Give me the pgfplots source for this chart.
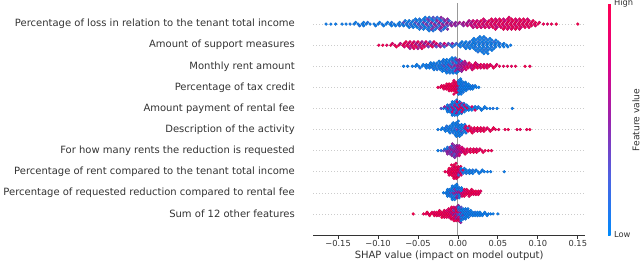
\documentclass[border=0pt]{standalone}
\usepackage{pgfplots}
\pgfplotsset{compat=1.18}
\usepackage{fontspec}
\setmainfont{DejaVu Sans}
\definecolor{axc}{HTML}{333333}
\definecolor{gridc}{HTML}{CCCCCC}
\definecolor{zeroc}{HTML}{999999}
\pgfplotsset{shapdots/.style={scatter, only marks, mark=*, mark size=1.4pt, point meta=explicit}}
\begin{document}
\begin{tikzpicture}
\useasboundingbox (0,0) rectangle (640pt,263pt);
\begin{axis}[
  at={(313.3pt,28pt)}, anchor=south west,
  scale only axis, width=271.7pt, height=232pt,
  xmin=-0.181, xmax=0.159, ymin=-1, ymax=10,
  axis x line*=bottom, axis y line*=left,
  x axis line style={-, draw=axc, line width=0.8pt},
  y axis line style={draw=none},
  tick align=outside, major tick length=3.5pt,
  xtick={-0.15,-0.1,-0.05,0,0.05,0.1,0.15},
  xticklabels={−0.15,−0.10,−0.05,0.00,0.05,0.10,0.15},
  xtick style={draw=axc, line width=0.8pt},
  ytick={0,1,2,3,4,5,6,7,8,9},
  yticklabels={Sum of 12 other features,Percentage of requested reduction compared to rental fee,Percentage of rent compared to the tenant total income,For how many rents the reduction is requested,Description of the activity,Amount payment of rental fee,Percentage of tax credit,Monthly rent amount,Amount of support measures,Percentage of loss in relation to the tenant total income},
  ytick style={draw=none},
  ymajorgrids,
  y grid style={gridc, line width=0.5pt, dash pattern=on 0.5pt off 2.5pt},
  xticklabel style={font=\fontsize{8.3}{10}\selectfont, text=axc, yshift=1.3pt},
  yticklabel style={font=\fontsize{10}{12}\selectfont, text=axc, anchor=east, xshift=-11.5pt},
  xlabel={SHAP value (impact on model output)},
  xlabel style={font=\fontsize{10}{12}\selectfont, text=axc, at={(axis description cs:0.5,0)}, anchor=north, yshift=-12.4pt},
  colormap={shap}{rgb255=(0,138,251) rgb255=(77,98,226) rgb255=(155,35,173) rgb255=(225,0,132) rgb255=(255,0,81)},
  point meta min=0, point meta max=1,
  colorbar right,
  colorbar style={
    at={(parent axis.north east)}, anchor=north west, xshift=14.5pt,
    scale only axis, width=2.5pt,
    axis line style={draw=none},
    ytick={0,1}, yticklabels={Low,High},
    ytick style={draw=none}, major tick length=0pt,
    yticklabel style={font=\fontsize{8.3}{10}\selectfont, text=axc},
  },
]
\addplot[zeroc, line width=0.9pt, forget plot] coordinates {(0,-1) (0,10)};
% row 9: Percentage of loss in relation to the tenant total income
\addplot[shapdots] table[row sep=\\, meta=c] {
x y c\\
-0.165 9 0.05\\ -0.159 9 0.05\\ -0.153 9 0.05\\ -0.145 9 0.05\\ -0.140 9 0.05\\ -0.135 9 0.08\\
-0.130 9 0.05\\ -0.128 9.08 0.05\\ -0.125 9 0.05\\ -0.123 8.92 0.1\\
-0.120 9 0.05\\ -0.118 9.08 0.05\\ -0.118 8.92 0.05\\ -0.115 9 0.05\\ -0.113 9.08 0.1\\
-0.110 9 0.05\\ -0.105 9 0.05\\ -0.103 8.92 0.05\\ -0.100 9 0.05\\ -0.098 9.08 0.05\\
-0.095 9 0.08\\ -0.093 8.92 0.05\\ -0.090 9 0.05\\ -0.088 9.08 0.05\\
-0.085 9 0.05\\ -0.083 9.08 0.1\\ -0.083 8.92 0.05\\ -0.080 9 0.05\\ -0.078 8.92 0.05\\
-0.075 9 0.05\\ -0.073 9.08 0.05\\ -0.073 8.92 0.1\\ -0.070 9 0.05\\ -0.068 9.08 0.3\\ -0.068 8.92 0.05\\
-0.065 9 0.1\\ -0.063 9.08 0.05\\ -0.063 8.92 0.05\\ -0.066 9.16 0.05\\
-0.060 9 0.2\\ -0.058 9.08 0.05\\ -0.058 8.92 0.1\\ -0.061 9.16 0.05\\ -0.061 8.84 0.05\\
-0.055 9 0.05\\ -0.053 9.08 0.3\\ -0.053 8.92 0.05\\ -0.056 9.16 0.1\\ -0.056 8.84 0.05\\ -0.053 9.24 0.05\\
-0.050 9 0.35\\ -0.048 9.08 0.05\\ -0.048 8.92 0.2\\ -0.051 9.16 0.05\\ -0.051 8.84 0.05\\ -0.048 9.24 0.1\\ -0.048 8.76 0.05\\
-0.045 9 0.05\\ -0.043 9.08 0.4\\ -0.043 8.92 0.05\\ -0.046 9.16 0.1\\ -0.046 8.84 0.3\\ -0.043 9.24 0.05\\ -0.043 8.76 0.05\\
-0.040 9 0.45\\ -0.038 9.08 0.1\\ -0.038 8.92 0.3\\ -0.041 9.16 0.05\\ -0.041 8.84 0.05\\ -0.038 9.24 0.4\\ -0.038 8.76 0.1\\ -0.041 9.32 0.05\\
-0.035 9 0.2\\ -0.033 9.08 0.5\\ -0.033 8.92 0.05\\ -0.036 9.16 0.35\\ -0.036 8.84 0.1\\ -0.033 9.24 0.05\\ -0.033 8.76 0.45\\ -0.036 9.32 0.1\\ -0.036 8.68 0.05\\
-0.030 9 0.5\\ -0.028 9.08 0.15\\ -0.028 8.92 0.45\\ -0.031 9.16 0.05\\ -0.031 8.84 0.4\\ -0.028 9.24 0.2\\ -0.028 8.76 0.05\\ -0.031 9.32 0.3\\ -0.031 8.68 0.1\\
-0.025 9 0.3\\ -0.023 9.08 0.55\\ -0.023 8.92 0.1\\ -0.026 9.16 0.5\\ -0.026 8.84 0.2\\ -0.023 9.24 0.05\\ -0.023 8.76 0.5\\ -0.026 9.32 0.15\\
-0.020 9 0.55\\ -0.018 9.08 0.2\\ -0.018 8.92 0.5\\ -0.021 9.16 0.1\\ -0.021 8.84 0.55\\ -0.018 9.24 0.4\\ -0.018 8.76 0.1\\ -0.021 9.32 0.5\\ -0.021 8.68 0.2\\
-0.015 9 0.45\\ -0.013 9.08 0.55\\ -0.013 8.92 0.3\\ -0.016 9.16 0.5\\ -0.016 8.84 0.1\\ -0.013 9.24 0.5\\ -0.013 8.76 0.45\\
-0.010 9 0.5\\ -0.008 9.08 0.4\\ -0.008 8.92 0.55\\ -0.011 9.16 0.2\\
-0.005 9 0.55\\ -0.003 9.08 0.5\\ -0.003 8.92 0.45\\ 0.000 9 0.5\\ 0.002 9.08 0.6\\
0.005 9 0.55\\ 0.007 9.08 0.6\\ 0.007 8.92 0.5\\ 0.010 9 0.65\\ 0.012 9.08 0.55\\ 0.012 8.92 0.7\\
0.015 9 0.7\\ 0.017 9.08 0.6\\ 0.017 8.92 0.75\\ 0.014 9.16 0.65\\
0.020 9 0.75\\ 0.022 9.08 0.85\\ 0.022 8.92 0.65\\ 0.019 9.16 0.8\\ 0.019 8.84 0.7\\
0.025 9 0.85\\ 0.027 9.08 0.7\\ 0.027 8.92 0.9\\ 0.024 9.16 0.75\\ 0.024 8.84 0.85\\
0.030 9 0.9\\ 0.032 9.08 0.8\\ 0.032 8.92 0.7\\ 0.029 9.16 0.95\\ 0.029 8.84 0.75\\ 0.032 9.24 0.85\\
0.035 9 0.8\\ 0.037 9.08 0.95\\ 0.037 8.92 0.85\\ 0.034 9.16 0.7\\ 0.034 8.84 0.9\\
0.040 9 0.95\\ 0.042 9.08 0.8\\ 0.042 8.92 0.9\\ 0.039 9.16 0.85\\ 0.039 8.84 0.75\\ 0.042 9.24 0.95\\
0.045 9 0.85\\ 0.047 9.08 0.95\\ 0.047 8.92 0.75\\ 0.044 9.16 0.9\\ 0.044 8.84 0.95\\ 0.047 9.24 0.8\\ 0.047 8.76 0.9\\
0.050 9 0.9\\ 0.052 9.08 0.8\\ 0.052 8.92 0.95\\ 0.049 9.16 0.85\\ 0.049 8.84 0.7\\ 0.052 9.24 0.95\\
0.055 9 0.95\\ 0.057 9.08 0.9\\ 0.057 8.92 0.8\\ 0.054 9.16 0.95\\ 0.054 8.84 0.85\\ 0.057 9.24 0.75\\ 0.057 8.76 0.95\\
0.060 9 0.8\\ 0.062 9.08 0.95\\ 0.062 8.92 0.9\\ 0.059 9.16 0.75\\ 0.059 8.84 0.95\\ 0.062 9.24 0.9\\ 0.062 8.76 0.85\\
0.065 9 0.95\\ 0.067 9.08 0.85\\ 0.067 8.92 0.95\\ 0.064 9.16 0.9\\ 0.064 8.84 0.8\\ 0.067 9.24 0.95\\ 0.067 8.76 0.9\\ 0.064 9.32 0.85\\
0.070 9 0.9\\ 0.072 9.08 0.95\\ 0.072 8.92 0.8\\ 0.069 9.16 0.95\\ 0.069 8.84 0.9\\ 0.072 9.24 0.85\\ 0.072 8.76 0.95\\
0.075 9 0.85\\ 0.077 9.08 0.9\\ 0.077 8.92 0.95\\ 0.074 9.16 0.8\\ 0.074 8.84 0.95\\ 0.077 9.24 0.9\\ 0.077 8.76 0.85\\
0.080 9 0.95\\ 0.082 9.08 0.85\\ 0.082 8.92 0.9\\ 0.079 9.16 0.95\\ 0.079 8.84 0.8\\ 0.082 9.24 0.95\\
0.085 9 0.9\\ 0.087 9.08 0.95\\ 0.087 8.92 0.85\\ 0.084 9.16 0.9\\ 0.084 8.84 0.95\\ 0.087 9.24 0.8\\
0.090 9 0.95\\ 0.092 9.08 0.9\\ 0.092 8.92 0.95\\ 0.089 9.16 0.85\\ 0.089 8.84 0.9\\
0.095 9 0.9\\ 0.097 9.08 0.95\\ 0.097 8.92 0.85\\ 0.094 9.16 0.95\\
0.100 9 0.95\\ 0.102 9.08 0.9\\ 0.107 9 0.95\\ 0.112 9 0.9\\ 0.117 9 0.95\\ 0.123 9 1\\ 0.150 9 1\\
};
% row 8: Amount of support measures
\addplot[shapdots] table[row sep=\\, meta=c] {
x y c\\
-0.099 8 0.95\\ -0.094 8 1\\ -0.089 8 0.9\\ -0.084 8 0.95\\ -0.082 8.08 0.85\\
-0.079 8 0.9\\ -0.077 7.92 1\\ -0.074 8 0.95\\ -0.072 8.08 0.7\\
-0.069 8 0.9\\ -0.067 8.08 0.95\\ -0.067 7.92 0.8\\
-0.064 8 0.95\\ -0.062 8.08 0.75\\ -0.062 7.92 0.9\\ -0.065 8.16 0.95\\
-0.059 8 0.7\\ -0.057 8.08 0.95\\ -0.057 7.92 0.85\\ -0.060 8.16 0.9\\ -0.060 7.84 0.6\\
-0.054 8 0.9\\ -0.052 8.08 0.6\\ -0.052 7.92 0.95\\ -0.055 8.16 0.8\\ -0.055 7.84 0.9\\
-0.049 8 0.5\\ -0.047 8.08 0.9\\ -0.047 7.92 0.7\\ -0.050 8.16 0.95\\ -0.050 7.84 0.6\\
-0.044 8 0.85\\ -0.042 8.08 0.5\\ -0.042 7.92 0.9\\ -0.045 8.16 0.6\\ -0.045 7.84 0.95\\
-0.039 8 0.6\\ -0.037 8.08 0.9\\ -0.037 7.92 0.4\\ -0.040 8.16 0.85\\
-0.034 8 0.9\\ -0.032 8.08 0.55\\ -0.032 7.92 0.95\\ -0.035 8.16 0.3\\
-0.029 8 0.5\\ -0.027 8.08 0.85\\ -0.027 7.92 0.3\\ -0.030 8.16 0.9\\
-0.024 8 0.7\\ -0.022 8.08 0.3\\ -0.022 7.92 0.6\\
-0.019 8 0.4\\ -0.017 8.08 0.8\\ -0.017 7.92 0.2\\
-0.014 8 0.6\\ -0.012 8.08 0.3\\
-0.009 8 0.15\\ -0.007 8.08 0.5\\ -0.007 7.92 0.1\\
-0.004 8 0.1\\ -0.002 8.08 0.2\\
0.001 8 0.05\\ 0.003 8.08 0.1\\ 0.003 7.92 0.05\\
0.006 8 0.05\\ 0.008 8.08 0.05\\ 0.008 7.92 0.1\\ 0.005 8.16 0.05\\
0.011 8 0.05\\ 0.013 8.08 0.1\\ 0.013 7.92 0.05\\ 0.010 8.16 0.05\\ 0.010 7.84 0.05\\
0.016 8 0.05\\ 0.018 8.08 0.05\\ 0.018 7.92 0.05\\ 0.015 8.16 0.1\\ 0.015 7.84 0.05\\ 0.018 8.24 0.05\\
0.021 8 0.05\\ 0.0225 8.08 0.05\\ 0.0225 7.92 0.1\\ 0.020 8.16 0.05\\ 0.020 7.84 0.05\\ 0.0225 8.24 0.05\\ 0.0225 7.76 0.05\\ 0.020 8.32 0.05\\
0.026 8 0.05\\ 0.0275 8.08 0.05\\ 0.0275 7.92 0.05\\ 0.025 8.16 0.1\\ 0.025 7.84 0.05\\ 0.0275 8.24 0.05\\ 0.0275 7.76 0.05\\ 0.025 8.32 0.05\\ 0.025 7.68 0.1\\ 0.0275 8.40 0.05\\
0.031 8 0.05\\ 0.0325 8.08 0.1\\ 0.0325 7.92 0.05\\ 0.030 8.16 0.05\\ 0.030 7.84 0.05\\ 0.0325 8.24 0.05\\ 0.0325 7.76 0.1\\ 0.030 8.32 0.05\\ 0.030 7.68 0.05\\ 0.0325 8.40 0.05\\ 0.0325 7.60 0.05\\
0.036 8 0.05\\ 0.0375 8.08 0.05\\ 0.0375 7.92 0.05\\ 0.035 8.16 0.05\\ 0.035 7.84 0.1\\ 0.0375 8.24 0.05\\ 0.0375 7.76 0.05\\ 0.035 8.32 0.1\\ 0.035 7.68 0.05\\ 0.0375 7.60 0.05\\
0.041 8 0.05\\ 0.0425 8.08 0.05\\ 0.0425 7.92 0.1\\ 0.040 8.16 0.05\\ 0.040 7.84 0.05\\ 0.0425 8.24 0.05\\ 0.0425 7.76 0.05\\ 0.040 8.32 0.05\\
0.046 8 0.05\\ 0.0475 8.08 0.05\\ 0.0475 7.92 0.05\\ 0.045 8.16 0.15\\ 0.045 7.84 0.05\\ 0.0475 8.24 0.05\\
0.051 8 0.05\\ 0.0525 8.08 0.1\\ 0.0525 7.92 0.05\\ 0.050 8.16 0.05\\
0.056 8 0.05\\ 0.0575 8.08 0.05\\ 0.0575 7.92 0.05\\
0.061 8 0.05\\ 0.0625 7.92 0.05\\ 0.066 8 0.05\\
};
% row 7: Monthly rent amount
\addplot[shapdots] table[row sep=\\, meta=c] {
x y c\\
-0.068 7 0.05\\ -0.063 7 0.05\\ -0.057 7 0.05\\
-0.053 7 0.05\\ -0.0515 7.08 0.05\\ -0.049 7 0.05\\ -0.0475 6.92 0.1\\ -0.045 7 0.05\\ -0.0435 7.08 0.05\\
-0.041 7 0.05\\ -0.0395 7.08 0.05\\ -0.0395 6.92 0.05\\ -0.037 7 0.1\\ -0.0355 7.08 0.05\\ -0.0355 6.92 0.05\\
-0.033 7 0.05\\ -0.0315 7.08 0.05\\ -0.0315 6.92 0.1\\ -0.034 7.16 0.05\\
-0.029 7 0.05\\ -0.0275 7.08 0.1\\ -0.0275 6.92 0.05\\ -0.030 7.16 0.05\\ -0.030 6.84 0.05\\
-0.025 7 0.1\\ -0.0235 7.08 0.05\\ -0.0235 6.92 0.05\\ -0.026 7.16 0.05\\ -0.026 6.84 0.1\\ -0.0235 7.24 0.05\\
-0.021 7 0.05\\ -0.0195 7.08 0.2\\ -0.0195 6.92 0.05\\ -0.022 7.16 0.05\\ -0.022 6.84 0.05\\ -0.0195 7.24 0.1\\ -0.0195 6.76 0.05\\
-0.017 7 0.3\\ -0.0155 7.08 0.05\\ -0.0155 6.92 0.05\\ -0.018 7.16 0.1\\ -0.018 6.84 0.05\\ -0.0155 7.24 0.05\\ -0.0155 6.76 0.05\\ -0.018 7.32 0.05\\
-0.013 7 0.05\\ -0.0115 7.08 0.35\\ -0.0115 6.92 0.05\\ -0.014 7.16 0.05\\ -0.014 6.84 0.2\\ -0.0115 7.24 0.05\\ -0.0115 6.76 0.05\\ -0.014 7.32 0.05\\ -0.014 6.68 0.05\\
-0.009 7 0.45\\ -0.0075 7.08 0.05\\ -0.0075 6.92 0.4\\ -0.010 7.16 0.05\\ -0.010 6.84 0.05\\ -0.0075 7.24 0.3\\ -0.0075 6.76 0.05\\ -0.010 7.32 0.05\\ -0.010 6.68 0.1\\ -0.0075 7.40 0.05\\
-0.005 7 0.5\\ -0.0035 7.08 0.45\\ -0.0035 6.92 0.05\\ -0.006 7.16 0.4\\ -0.006 6.84 0.1\\ -0.0035 7.24 0.05\\ -0.0035 6.76 0.5\\ -0.006 7.32 0.05\\ -0.006 6.68 0.05\\ -0.0035 7.40 0.1\\
-0.001 7 0.55\\ 0.0005 7.08 0.5\\ 0.0005 6.92 0.45\\ -0.002 7.16 0.05\\ -0.002 6.84 0.5\\ 0.0005 7.24 0.4\\ 0.0005 6.76 0.05\\ -0.002 7.32 0.45\\ -0.002 6.68 0.05\\
0.003 7 0.6\\ 0.0045 7.08 0.55\\ 0.0045 6.92 0.5\\ 0.002 7.16 0.45\\ 0.002 6.84 0.6\\ 0.0045 7.24 0.1\\ 0.0045 6.76 0.5\\ 0.002 7.32 0.55\\
0.007 7 0.7\\ 0.0085 7.08 0.6\\ 0.0085 6.92 0.8\\ 0.006 7.16 0.55\\ 0.006 6.84 0.65\\ 0.0085 7.24 0.7\\
0.011 7 0.85\\ 0.0125 7.08 0.7\\ 0.0125 6.92 0.9\\ 0.010 7.16 0.6\\ 0.010 6.84 0.8\\
0.015 7 0.9\\ 0.0165 7.08 0.8\\ 0.0165 6.92 0.65\\ 0.014 7.16 0.95\\
0.019 7 0.75\\ 0.0205 7.08 0.95\\ 0.0205 6.92 0.9\\ 0.018 6.84 0.85\\
0.023 7 0.95\\ 0.0245 7.08 0.7\\ 0.0245 6.92 0.95\\ 0.022 7.16 0.85\\
0.027 7 0.9\\ 0.0285 7.08 0.95\\ 0.0285 6.92 0.8\\ 0.031 7 0.95\\ 0.0325 7.08 0.85\\ 0.0325 6.92 0.95\\
0.035 7 0.8\\ 0.0365 7.08 0.95\\ 0.0365 6.92 0.9\\ 0.039 7 0.95\\ 0.0405 7.08 0.9\\
0.043 7 0.9\\ 0.0445 6.92 0.95\\ 0.047 7 0.95\\ 0.0485 7.08 0.85\\
0.052 7 0.95\\ 0.057 7 0.9\\ 0.062 7 0.95\\ 0.067 7 0.9\\ 0.072 7 0.95\\ 0.084 7 1\\ 0.090 7 0.95\\
};
% row 6: Percentage of tax credit
\addplot[shapdots] table[row sep=\\, meta=c] {
x y c\\
-0.025 6 0.95\\ -0.022 6 0.95\\ -0.0205 6.08 0.9\\
-0.019 6 1\\ -0.0175 6.08 0.95\\ -0.0175 5.92 0.9\\ -0.016 6 0.95\\ -0.0145 6.08 1\\ -0.0145 5.92 0.95\\
-0.013 6 0.9\\ -0.0115 6.08 0.95\\ -0.0115 5.92 1\\ -0.014 6.16 0.95\\
-0.010 6 0.95\\ -0.0085 6.08 0.9\\ -0.0085 5.92 0.95\\ -0.011 6.16 1\\ -0.011 5.84 0.95\\
-0.007 6 1\\ -0.0055 6.08 0.95\\ -0.0055 5.92 0.9\\ -0.008 6.16 0.95\\ -0.008 5.84 1\\ -0.0055 6.24 0.95\\
-0.004 6 0.95\\ -0.0025 6.08 1\\ -0.0025 5.92 0.95\\ -0.005 6.16 0.9\\ -0.005 5.84 0.95\\ -0.0025 6.24 1\\ -0.0025 5.76 0.95\\ -0.005 6.32 0.9\\ -0.005 5.68 0.95\\
-0.001 6 0.6\\ 0.0005 6.08 0.95\\ 0.0005 5.92 0.5\\ -0.002 6.16 0.95\\ -0.002 5.84 0.9\\ 0.0005 6.24 0.2\\ 0.0005 5.76 0.95\\
0.002 6 0.05\\ 0.0035 6.08 0.05\\ 0.0035 5.92 0.1\\ 0.001 6.16 0.05\\ 0.001 5.84 0.05\\ 0.0035 6.24 0.05\\ 0.0035 5.76 0.05\\ 0.001 6.32 0.05\\ 0.001 5.68 0.05\\ 0.0035 6.40 0.05\\
0.005 6 0.05\\ 0.0065 6.08 0.1\\ 0.0065 5.92 0.05\\ 0.004 6.16 0.05\\ 0.004 5.84 0.05\\ 0.0065 6.24 0.05\\ 0.0065 5.76 0.1\\ 0.004 6.32 0.05\\ 0.004 5.68 0.05\\
0.008 6 0.05\\ 0.0095 6.08 0.05\\ 0.0095 5.92 0.05\\ 0.007 6.16 0.1\\ 0.007 5.84 0.05\\ 0.0095 6.24 0.05\\
0.011 6 0.05\\ 0.0125 6.08 0.05\\ 0.0125 5.92 0.1\\ 0.010 6.16 0.05\\ 0.010 5.84 0.05\\
0.014 6 0.05\\ 0.0155 6.08 0.05\\ 0.0155 5.92 0.05\\ 0.013 6.16 0.05\\
0.017 6 0.05\\ 0.0185 6.08 0.1\\ 0.0185 5.92 0.05\\ 0.020 6 0.05\\ 0.0215 6.08 0.05\\ 0.023 6 0.05\\ 0.026 6 0.05\\
};
% row 5: Amount payment of rental fee
\addplot[shapdots] table[row sep=\\, meta=c] {
x y c\\
-0.021 5 0.3\\ -0.018 5 0.05\\ -0.0165 5.08 0.6\\ -0.015 5 0.05\\ -0.0135 5.08 0.3\\ -0.0135 4.92 0.05\\
-0.012 5 0.5\\ -0.0105 5.08 0.05\\ -0.0105 4.92 0.1\\ -0.013 5.16 0.05\\ -0.013 4.84 0.05\\
-0.009 5 0.05\\ -0.0075 5.08 0.6\\ -0.0075 4.92 0.05\\ -0.010 5.16 0.3\\ -0.010 4.84 0.05\\ -0.0075 5.24 0.05\\ -0.0075 4.76 0.1\\
-0.006 5 0.7\\ -0.0045 5.08 0.05\\ -0.0045 4.92 0.5\\ -0.007 5.16 0.05\\ -0.007 4.84 0.8\\ -0.0045 5.24 0.1\\ -0.0045 4.76 0.05\\ -0.007 5.32 0.05\\ -0.007 4.68 0.05\\
-0.003 5 0.05\\ -0.0015 5.08 0.9\\ -0.0015 4.92 0.05\\ -0.004 5.16 0.6\\ -0.004 4.84 0.05\\ -0.0015 5.24 0.05\\ -0.0015 4.76 0.7\\ -0.004 5.32 0.05\\ -0.004 4.68 0.1\\ -0.0015 5.40 0.05\\
0.000 5 0.8\\ 0.0015 5.08 0.05\\ 0.0015 4.92 0.95\\ -0.001 5.16 0.05\\ -0.001 4.84 0.5\\ 0.0015 5.24 0.05\\ 0.0015 4.76 0.05\\ -0.001 5.32 0.9\\ -0.001 4.68 0.05\\
0.003 5 0.95\\ 0.0045 5.08 0.7\\ 0.0045 4.92 0.05\\ 0.002 5.16 0.9\\ 0.002 4.84 0.05\\ 0.0045 5.24 0.6\\ 0.0045 4.76 0.05\\ 0.002 5.32 0.05\\
0.006 5 0.9\\ 0.0075 5.08 0.05\\ 0.0075 4.92 0.95\\ 0.005 5.16 0.1\\ 0.005 4.84 0.8\\ 0.0075 5.24 0.05\\
0.009 5 0.05\\ 0.0105 5.08 0.95\\ 0.0105 4.92 0.05\\ 0.008 5.16 0.7\\ 0.008 4.84 0.05\\
0.012 5 0.9\\ 0.0135 5.08 0.05\\ 0.0135 4.92 0.05\\ 0.011 5.16 0.1\\
0.016 5 0.05\\ 0.0175 5.08 0.85\\ 0.0175 4.92 0.05\\ 0.020 5 0.05\\ 0.0215 5.08 0.05\\ 0.0215 4.92 0.9\\
0.024 5 0.05\\ 0.0255 5.08 0.1\\ 0.028 5 0.05\\ 0.0295 4.92 0.05\\ 0.032 5 0.05\\ 0.0335 5.08 0.05\\
0.036 5 0.05\\ 0.040 5 0.05\\ 0.044 5 0.1\\ 0.049 5 0.05\\ 0.068 5 0.05\\
};
% row 4: Description of the activity
\addplot[shapdots] table[row sep=\\, meta=c] {
x y c\\
-0.025 4 0.05\\ -0.021 4 0.05\\ -0.0195 4.08 0.05\\ -0.017 4 0.05\\ -0.0155 4.08 0.1\\ -0.0155 3.92 0.05\\
-0.013 4 0.05\\ -0.0115 4.08 0.05\\ -0.0115 3.92 0.05\\ -0.014 4.16 0.1\\
-0.009 4 0.1\\ -0.0075 4.08 0.05\\ -0.0075 3.92 0.05\\ -0.010 4.16 0.05\\ -0.010 3.84 0.05\\ -0.0075 4.24 0.05\\
-0.005 4 0.05\\ -0.0035 4.08 0.2\\ -0.0035 3.92 0.05\\ -0.006 4.16 0.05\\ -0.006 3.84 0.1\\ -0.0035 4.24 0.05\\ -0.0035 3.76 0.05\\ -0.006 4.32 0.05\\
-0.001 4 0.4\\ 0.0005 4.08 0.05\\ 0.0005 3.92 0.05\\ -0.002 4.16 0.05\\ -0.002 3.84 0.05\\ 0.0005 4.24 0.1\\ 0.0005 3.76 0.05\\ -0.002 4.32 0.05\\ -0.002 3.68 0.05\\ 0.0005 4.40 0.05\\
0.003 4 0.05\\ 0.0045 4.08 0.05\\ 0.0045 3.92 0.3\\ 0.002 4.16 0.05\\ 0.002 3.84 0.05\\ 0.0045 4.24 0.05\\ 0.0045 3.76 0.05\\ 0.002 3.68 0.05\\
0.007 4 0.05\\ 0.0085 4.08 0.6\\ 0.0085 3.92 0.05\\ 0.006 4.16 0.05\\ 0.006 3.84 0.1\\ 0.0085 4.24 0.05\\
0.011 4 0.8\\ 0.0125 4.08 0.05\\ 0.0125 3.92 0.95\\ 0.010 4.16 0.9\\ 0.010 3.84 0.05\\
0.015 4 0.95\\ 0.0165 4.08 0.9\\ 0.0165 3.92 1\\ 0.014 4.16 0.95\\
0.019 4 0.9\\ 0.0205 4.08 0.95\\ 0.0205 3.92 0.85\\ 0.018 3.84 0.95\\
0.023 4 0.95\\ 0.0245 4.08 1\\ 0.0245 3.92 0.9\\ 0.027 4 0.9\\ 0.0285 4.08 0.95\\ 0.0285 3.92 0.95\\
0.031 4 1\\ 0.0325 4.08 0.9\\ 0.0325 3.92 0.95\\ 0.035 4 0.95\\ 0.0365 4.08 0.9\\
0.039 4 0.9\\ 0.0405 3.92 0.95\\ 0.043 4 0.95\\ 0.0445 4.08 1\\
0.047 4 0.95\\ 0.051 4 0.9\\ 0.059 4 0.95\\ 0.063 4 1\\ 0.074 4 0.95\\ 0.078 4 0.9\\ 0.086 4 0.95\\ 0.090 4 1\\
};
% row 3: For how many rents the reduction is requested
\addplot[shapdots] table[row sep=\\, meta=c] {
x y c\\
-0.025 3 0.05\\ -0.021 3 0.1\\ -0.018 3 0.3\\ -0.0165 3.08 0.05\\
-0.015 3 0.4\\ -0.0135 3.08 0.1\\ -0.0135 2.92 0.5\\
-0.012 3 0.5\\ -0.0105 3.08 0.3\\ -0.0105 2.92 0.45\\ -0.013 3.16 0.1\\ -0.013 2.84 0.5\\
-0.009 3 0.45\\ -0.0075 3.08 0.55\\ -0.0075 2.92 0.2\\ -0.010 3.16 0.5\\ -0.010 2.84 0.4\\ -0.0075 3.24 0.1\\ -0.0075 2.76 0.5\\
-0.006 3 0.5\\ -0.0045 3.08 0.4\\ -0.0045 2.92 0.55\\ -0.007 3.16 0.3\\ -0.007 2.84 0.5\\ -0.0045 3.24 0.45\\ -0.0045 2.76 0.2\\ -0.007 3.32 0.5\\
-0.003 3 0.55\\ -0.0015 3.08 0.5\\ -0.0015 2.92 0.6\\ -0.004 3.16 0.45\\ -0.004 2.84 0.35\\ -0.0015 3.24 0.5\\ -0.0015 2.76 0.55\\ -0.004 2.68 0.45\\
0.000 3 0.6\\ 0.0015 3.08 0.7\\ 0.0015 2.92 0.5\\ -0.001 3.16 0.65\\ -0.001 2.84 0.55\\ 0.0015 3.24 0.6\\ 0.0015 2.76 0.7\\
0.003 3 0.7\\ 0.0045 3.08 0.8\\ 0.0045 2.92 0.65\\ 0.002 3.16 0.75\\ 0.002 2.84 0.85\\
0.006 3 0.85\\ 0.0075 3.08 0.75\\ 0.0075 2.92 0.9\\ 0.005 3.16 0.8\\
0.010 3 0.9\\ 0.0115 3.08 0.95\\ 0.0115 2.92 0.85\\ 0.009 2.84 0.95\\
0.014 3 0.95\\ 0.0155 3.08 0.9\\ 0.0155 2.92 0.95\\ 0.018 3 0.9\\ 0.0195 3.08 0.95\\ 0.0195 2.92 1\\
0.022 3 0.95\\ 0.0235 3.08 0.85\\ 0.0235 2.92 0.95\\ 0.026 3 0.95\\ 0.0275 3.08 0.9\\
0.030 3 0.9\\ 0.0315 2.92 0.95\\ 0.034 3 0.95\\ 0.038 3 1\\ 0.042 3 0.95\\
};
% row 2: Percentage of rent compared to the tenant total income
\addplot[shapdots] table[row sep=\\, meta=c] {
x y c\\
-0.016 2 0.95\\ -0.013 2 0.9\\ -0.0115 2.08 0.95\\ -0.0115 1.92 1\\
-0.010 2 0.95\\ -0.0085 2.08 0.9\\ -0.0085 1.92 0.95\\ -0.011 2.16 1\\ -0.011 1.84 0.9\\
-0.007 2 1\\ -0.0055 2.08 0.95\\ -0.0055 1.92 0.9\\ -0.008 2.16 0.95\\ -0.008 1.84 1\\ -0.0055 2.24 0.9\\ -0.0055 1.76 0.95\\ -0.008 2.32 0.95\\
-0.004 2 0.95\\ -0.0025 2.08 1\\ -0.0025 1.92 0.95\\ -0.005 2.16 0.9\\ -0.005 1.84 0.95\\ -0.0025 2.24 0.95\\ -0.0025 1.76 0.9\\ -0.005 2.32 1\\ -0.005 1.68 0.95\\ -0.0025 2.40 0.9\\
-0.001 2 0.9\\ 0.0005 2.08 0.95\\ 0.0005 1.92 0.6\\ -0.002 2.16 0.95\\ -0.002 1.84 0.9\\ 0.0005 2.24 0.95\\ 0.0005 1.76 1\\ -0.002 1.68 0.95\\
0.002 2 0.7\\ 0.0035 2.08 0.3\\ 0.0035 1.92 0.95\\ 0.001 2.16 0.9\\ 0.001 1.84 0.2\\ 0.0035 2.24 0.95\\
0.005 2 0.2\\ 0.0065 2.08 0.9\\ 0.0065 1.92 0.1\\ 0.004 2.16 0.05\\ 0.004 1.84 0.8\\
0.009 2 0.05\\ 0.0105 2.08 0.05\\ 0.0105 1.92 0.1\\ 0.008 2.16 0.05\\
0.013 2 0.05\\ 0.0145 2.08 0.05\\ 0.0145 1.92 0.05\\ 0.017 2 0.05\\ 0.0185 2.08 0.1\\ 0.0185 1.92 0.05\\
0.021 2 0.05\\ 0.0225 2.08 0.05\\ 0.025 2 0.05\\ 0.0265 1.92 0.05\\ 0.029 2 0.05\\ 0.0305 2.08 0.05\\
0.033 2 0.05\\ 0.037 2 0.05\\ 0.041 2 0.05\\ 0.058 2 0.05\\
};
% row 1: Percentage of requested reduction compared to rental fee
\addplot[shapdots] table[row sep=\\, meta=c] {
x y c\\
-0.018 1 0.05\\ -0.015 1 0.05\\ -0.0135 1.08 0.05\\ -0.0135 0.92 0.1\\
-0.012 1 0.05\\ -0.0105 1.08 0.1\\ -0.0105 0.92 0.05\\ -0.013 1.16 0.05\\ -0.013 0.84 0.05\\
-0.009 1 0.3\\ -0.0075 1.08 0.05\\ -0.0075 0.92 0.05\\ -0.010 1.16 0.05\\ -0.010 0.84 0.1\\ -0.0075 1.24 0.05\\ -0.0075 0.76 0.05\\
-0.006 1 0.45\\ -0.0045 1.08 0.05\\ -0.0045 0.92 0.4\\ -0.007 1.16 0.05\\ -0.007 0.84 0.05\\ -0.0045 1.24 0.1\\ -0.0045 0.76 0.05\\ -0.007 1.32 0.05\\ -0.007 0.68 0.05\\
-0.003 1 0.5\\ -0.0015 1.08 0.45\\ -0.0015 0.92 0.05\\ -0.004 1.16 0.4\\ -0.004 0.84 0.1\\ -0.0015 1.24 0.05\\ -0.0015 0.76 0.5\\ -0.004 1.32 0.05\\ -0.004 0.68 0.05\\ -0.0015 1.40 0.05\\
0.000 1 0.55\\ 0.0015 1.08 0.5\\ 0.0015 0.92 0.05\\ -0.001 1.16 0.05\\ -0.001 0.84 0.45\\ 0.0015 1.24 0.1\\ 0.0015 0.76 0.05\\ -0.001 1.32 0.05\\
0.003 1 0.6\\ 0.0045 1.08 0.05\\ 0.0045 0.92 0.7\\ 0.002 1.16 0.1\\ 0.002 0.84 0.05\\ 0.0045 1.24 0.05\\
0.006 1 0.8\\ 0.0075 1.08 0.7\\ 0.0075 0.92 0.9\\ 0.005 1.16 0.05\\ 0.005 0.84 0.85\\
0.009 1 0.95\\ 0.0105 1.08 0.85\\ 0.0105 0.92 0.95\\ 0.008 1.16 0.9\\ 0.008 0.84 0.95\\
0.012 1 0.9\\ 0.0135 1.08 0.95\\ 0.0135 0.92 1\\ 0.011 1.16 0.95\\
0.015 1 0.95\\ 0.0165 1.08 0.9\\ 0.0165 0.92 0.95\\ 0.014 0.84 0.9\\
0.018 1 1\\ 0.0195 1.08 0.95\\ 0.0195 0.92 0.9\\ 0.017 1.16 0.95\\
0.021 1 0.95\\ 0.0225 1.08 1\\ 0.0225 0.92 0.95\\ 0.024 1 0.9\\ 0.0255 1.08 0.95\\ 0.0255 0.92 0.95\\
0.027 1 0.95\\ 0.0285 1.08 0.9\\
};
% row 0: Sum of 12 other features
\addplot[shapdots] table[row sep=\\, meta=c] {
x y c\\
-0.056 0 1\\ -0.043 0 0.95\\ -0.040 0 0.95\\ -0.0385 0.08 1\\ -0.037 0 0.9\\ -0.0355 -0.08 0.95\\
-0.034 0 1\\ -0.0325 0.08 0.95\\ -0.031 0 0.95\\ -0.0295 0.08 0.9\\ -0.0295 -0.08 1\\
-0.028 0 0.9\\ -0.0265 0.08 0.95\\ -0.0265 -0.08 0.95\\ -0.025 0 0.95\\ -0.0235 0.08 1\\ -0.0235 -0.08 0.9\\
-0.022 0 1\\ -0.0205 0.08 0.95\\ -0.0205 -0.08 0.9\\ -0.023 0.16 0.95\\
-0.019 0 0.95\\ -0.0175 0.08 0.9\\ -0.0175 -0.08 0.95\\ -0.020 -0.16 1\\
-0.016 0 0.9\\ -0.0145 0.08 0.95\\ -0.0145 -0.08 1\\ -0.017 0.16 0.95\\ -0.017 -0.16 0.9\\
-0.013 0 0.95\\ -0.0115 0.08 0.9\\ -0.0115 -0.08 0.95\\ -0.014 0.16 0.8\\ -0.014 -0.16 0.95\\ -0.0115 0.24 0.9\\
-0.010 0 0.9\\ -0.0085 0.08 0.6\\ -0.0085 -0.08 0.95\\ -0.011 0.16 0.9\\ -0.011 -0.16 0.85\\ -0.0085 0.24 0.95\\ -0.0085 -0.24 0.9\\
-0.007 0 0.7\\ -0.0055 0.08 0.95\\ -0.0055 -0.08 0.5\\ -0.008 0.16 0.9\\ -0.008 -0.16 0.95\\ -0.0055 0.24 0.6\\ -0.0055 -0.24 0.9\\ -0.008 0.32 0.95\\
-0.004 0 0.5\\ -0.0025 0.08 0.8\\ -0.0025 -0.08 0.95\\ -0.005 0.16 0.4\\ -0.005 -0.16 0.9\\ -0.0025 0.24 0.95\\ -0.0025 -0.24 0.6\\ -0.005 0.32 0.85\\ -0.005 -0.32 0.95\\
-0.001 0 0.4\\ 0.0005 0.08 0.9\\ 0.0005 -0.08 0.3\\ -0.002 0.16 0.95\\ -0.002 -0.16 0.5\\ 0.0005 0.24 0.2\\ 0.0005 -0.24 0.9\\ -0.002 0.32 0.6\\ -0.002 -0.32 0.95\\ 0.0005 0.40 0.5\\
0.002 0 0.2\\ 0.0035 0.08 0.5\\ 0.0035 -0.08 0.1\\ 0.001 0.16 0.3\\ 0.001 -0.16 0.8\\ 0.0035 0.24 0.1\\ 0.0035 -0.24 0.4\\ 0.001 0.32 0.05\\ 0.001 -0.32 0.9\\ 0.0035 -0.40 0.5\\
0.005 0 0.1\\ 0.0065 0.08 0.05\\ 0.0065 -0.08 0.4\\ 0.004 0.16 0.05\\ 0.004 -0.16 0.1\\ 0.0065 0.24 0.05\\ 0.0065 -0.24 0.05\\ 0.004 0.32 0.3\\ 0.004 -0.32 0.05\\
0.008 0 0.05\\ 0.0095 0.08 0.1\\ 0.0095 -0.08 0.05\\ 0.007 0.16 0.05\\ 0.007 -0.16 0.05\\ 0.0095 0.24 0.05\\ 0.0095 -0.24 0.1\\
0.011 0 0.05\\ 0.0125 0.08 0.05\\ 0.0125 -0.08 0.05\\ 0.010 0.16 0.1\\ 0.010 -0.16 0.05\\ 0.0125 0.24 0.05\\
0.014 0 0.05\\ 0.0155 0.08 0.05\\ 0.0155 -0.08 0.1\\ 0.013 0.16 0.05\\ 0.013 -0.16 0.05\\
0.017 0 0.05\\ 0.0185 0.08 0.05\\ 0.0185 -0.08 0.05\\ 0.016 0.16 0.05\\
0.020 0 0.05\\ 0.0215 0.08 0.1\\ 0.0215 -0.08 0.05\\ 0.023 0 0.05\\ 0.0245 0.08 0.05\\ 0.0245 -0.08 0.05\\
0.026 0 0.05\\ 0.0275 0.08 0.05\\ 0.0275 -0.08 0.05\\ 0.029 0 0.05\\ 0.0305 -0.08 0.05\\
0.032 0 0.05\\ 0.0335 0.08 0.05\\ 0.035 0 0.05\\ 0.0365 -0.08 0.05\\
0.038 0 0.05\\ 0.041 0 0.05\\ 0.044 0 0.05\\ 0.050 0 0.05\\
};
\end{axis}
\node[rotate=90, anchor=base, inner sep=0pt, font=\fontsize{9.2}{11}\selectfont, text=axc] at (639.3pt,143pt) {Feature value};
\end{tikzpicture}
\end{document}
